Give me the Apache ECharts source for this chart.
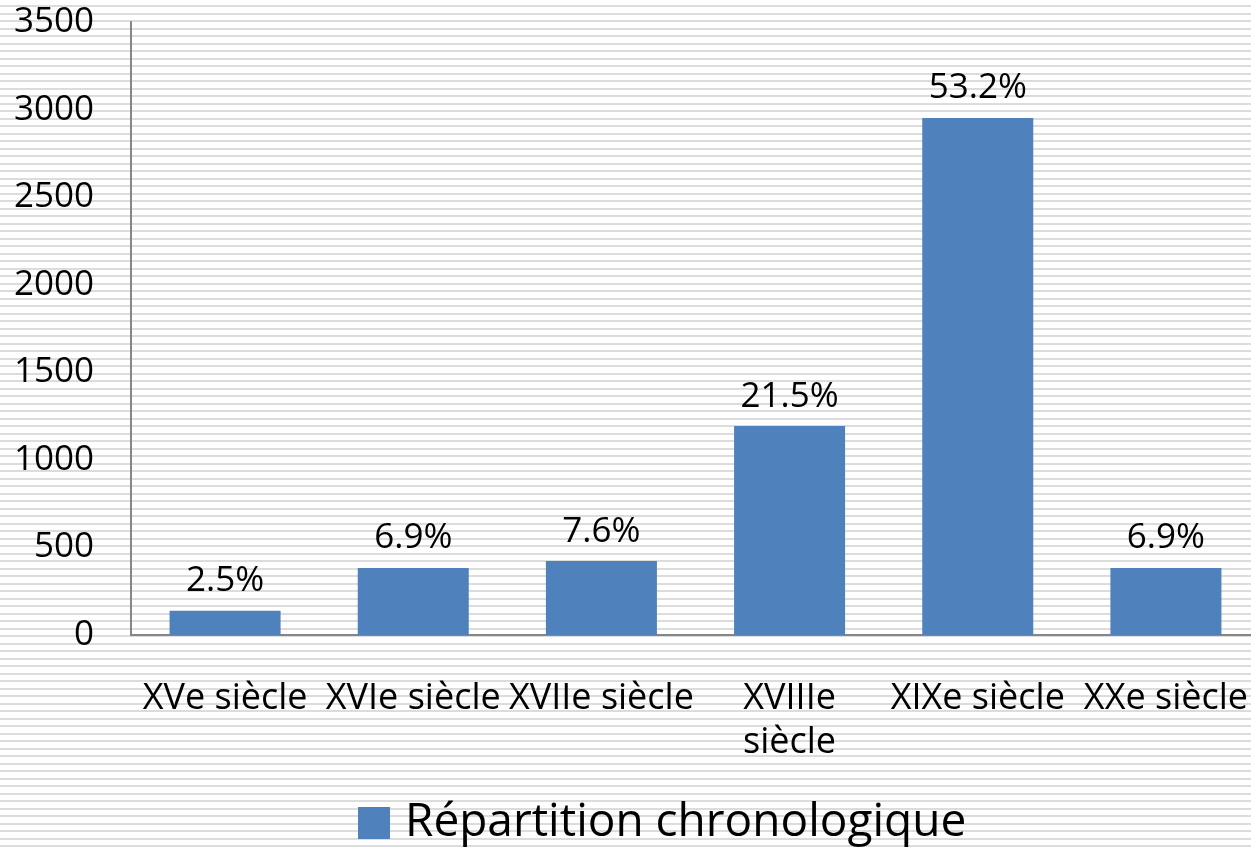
<!DOCTYPE html>
<html>
<head>
<meta charset="utf-8">
<script src="https://cdn.jsdelivr.net/npm/echarts@6/dist/echarts.min.js"></script>
<style>
  html, body { margin: 0; padding: 0; }
  body {
    width: 1251px; height: 849px; overflow: hidden;
    background: repeating-linear-gradient(to bottom, #ffffff 0px, #ffffff 5.5px, #dcdcdc 5.5px, #dcdcdc 7.5px);
  }
  #main { width: 1262px; height: 849px; }
</style>
</head>
<body>
<div id="main"></div>
<script>
const categories = ['XVe siècle', 'XVIe siècle', 'XVIIe siècle', 'XVIIIe\nsiècle', 'XIXe siècle', 'XXe siècle']
const counts = [139, 383, 422, 1193, 2952, 383]
const shares = ['2.5%', '6.9%', '7.6%', '21.5%', '53.2%', '6.9%']
const seriesName = 'Répartition chronologique'
const yTicks = [0, 500, 1000, 1500, 2000, 2500, 3000, 3500]

const font = '"Open Sans", Lato, sans-serif'

let chart = echarts.init(document.getElementById('main'))

const option = {
  backgroundColor: 'transparent',
  textStyle: { fontFamily: font },
  grid: { left: 131, right: 2, top: 22, bottom: 214 },
  legend: {
    bottom: -2,
    left: 353,
    itemWidth: 32,
    itemHeight: 32,
    icon: 'rect',
    textStyle: { fontSize: 46, color: '#000', fontFamily: font, padding: [0, 0, 0, 10] },
    data: [seriesName]
  },
  xAxis: {
    type: 'category',
    data: categories,
    axisLine: { lineStyle: { color: '#868686', width: 2 } },
    axisTick: { show: false },
    axisLabel: {
      color: '#000',
      fontSize: 36,
      fontFamily: font,
      margin: 42,
      lineHeight: 44,
      interval: 0
    }
  },
  yAxis: {
    type: 'value',
    min: yTicks[0],
    max: yTicks[yTicks.length - 1],
    interval: 500,
    axisLine: { show: true, lineStyle: { color: '#868686', width: 2 } },
    axisTick: { show: false },
    splitLine: { show: false },
    axisLabel: {
      color: '#000', fontSize: 35, fontFamily: font, margin: 37,
      formatter(v) { return String(v) }
    }
  },
  series: [
    {
      name: seriesName,
      type: 'bar',
      data: counts,
      barCategoryGap: '41%',
      itemStyle: { color: '#4f81bd' },
      label: {
        show: true,
        position: 'top',
        distance: 12,
        color: '#000',
        fontSize: 35,
        fontFamily: font,
        formatter(p) {
          return shares[p.dataIndex]
        }
      }
    }
  ]
}

chart.setOption(option)
</script>
</body>
</html>
